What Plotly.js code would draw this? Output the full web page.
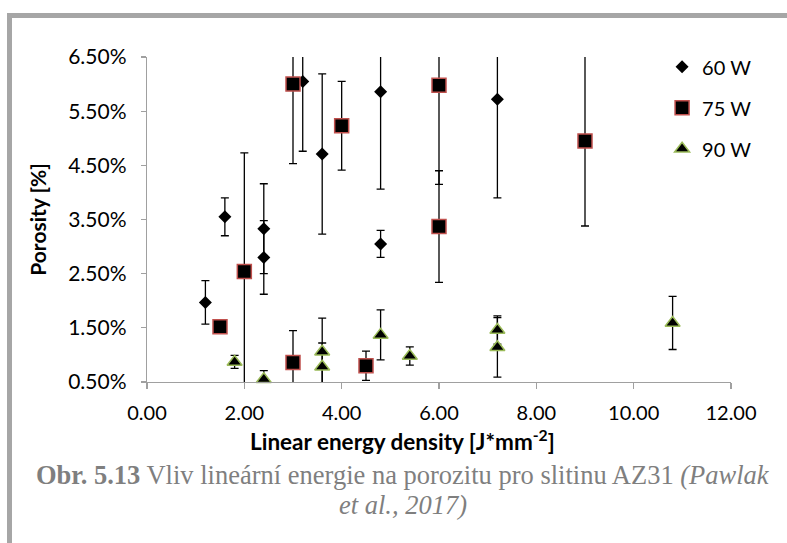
<!DOCTYPE html>
<html>
<head>
<meta charset="utf-8">
<script src="https://cdn.plot.ly/plotly-3.0.1.min.js"></script>
<style>
  html, body { margin:0; padding:0; background:#fff; }
  #wrap { position:relative; width:787px; height:543px; overflow:hidden; }
  #frame { position:absolute; left:7px; top:13px; width:800px; height:600px;
           border-left:5px solid #a6a6a6; border-top:5px solid #a6a6a6; box-sizing:border-box; }
  #chart { position:absolute; left:0; top:0; width:787px; height:543px; }
</style>
</head>
<body>
<div id="wrap">
  <div id="frame"></div>
  <div id="chart"></div>
</div>
<script>
// Linear energy density [J*mm^-2]
const x60 = [1.2, 1.6, 2.4, 2.4, 3.2, 3.6, 4.8, 4.8, 7.2];
const y60 = [1.97, 3.55, 3.33, 2.80, 6.05, 4.71, 5.86, 3.05, 5.72];
const e60 = [0.40, 0.35, 0.83, 0.68, 1.29, 1.48, 1.80, 0.25, 1.82];

const x75 = [1.5, 2.0, 3.0, 3.0, 4.0, 4.5, 6.0, 6.0, 9.0];
const y75 = [1.52, 2.54, 6.00, 0.86, 5.23, 0.80, 5.98, 3.37, 4.95];
const e75 = [0.05, 2.19, 1.47, 0.59, 0.82, 0.27, 1.83, 1.03, 1.57];

const x90 = [1.8, 2.4, 3.6, 3.6, 4.8, 5.4, 7.2, 7.2, 10.8];
const y90 = [0.87, 0.55, 1.06, 0.78, 1.37, 0.98, 1.46, 1.14, 1.59];
const e90 = [0.12, 0.16, 0.62, 0.44, 0.46, 0.17, 0.26, 0.55, 0.49];

const seriesNames = ['60 W', '75 W', '90 W'];

const FONT = 'Lato, "Open Sans", sans-serif';
const SERIF = '"Liberation Serif", "DejaVu Serif", serif';

function errTrace(x, y, e) {
  return {
    x: x, y: y, type: 'scatter', mode: 'markers',
    marker: { size: 1, color: 'rgba(0,0,0,0)' },
    error_y: { type: 'data', array: e, visible: true, color: '#000', thickness: 1.3, width: 4 },
    showlegend: false, hoverinfo: 'skip', cliponaxis: true
  };
}
function markTrace(x, y, name, marker) {
  return {
    x: x, y: y, type: 'scatter', mode: 'markers', name: name,
    legendgroup: name, marker: marker, cliponaxis: false
  };
}

const data = [
  errTrace(x60, y60, e60),
  errTrace(x75, y75, e75),
  errTrace(x90, y90, e90),
  markTrace(x60, y60, seriesNames[0], { symbol: 'diamond', size: 10, color: '#000', line: { width: 0 } }),
  markTrace(x75, y75, seriesNames[1], { symbol: 'square', size: 14, color: '#000', line: { width: 1.5, color: '#c0504d' } }),
  markTrace(x90, y90, seriesNames[2], { symbol: 'triangle-up', size: 13, color: '#000', line: { width: 1.5, color: '#9bbb59' } })
];

const layout = {
  width: 787, height: 543,
  paper_bgcolor: 'rgba(0,0,0,0)', plot_bgcolor: 'rgba(0,0,0,0)',
  margin: { l: 147, r: 56, t: 57, b: 161 },
  font: { family: FONT, color: '#000' },
  xaxis: {
    range: [0, 12], tick0: 0, dtick: 2, tickformat: '.2f',
    showline: true, linecolor: '#a0a0a0', linewidth: 1.3,
    ticks: 'outside', ticklen: 6, tickcolor: '#a0a0a0', tickwidth: 1.3,
    showgrid: false, zeroline: false, ticklabelstandoff: 7,
    tickfont: { family: FONT, size: 20, color: '#000' }
  },
  yaxis: {
    range: [0.5, 6.5], tick0: 0.5, dtick: 1, tickformat: '.2f', ticksuffix: '%',
    showline: true, linecolor: '#a0a0a0', linewidth: 1.3,
    ticks: 'outside', ticklen: 5, tickcolor: '#a0a0a0', tickwidth: 1.3,
    showgrid: false, zeroline: false, ticklabelstandoff: 10,
    tickfont: { family: FONT, size: 21, color: '#000' }
  },
  legend: {
    x: 0.882, y: 1.03, xanchor: 'left', yanchor: 'top',
    font: { family: FONT, size: 20, color: '#000' },
    traceorder: 'grouped', tracegroupgap: 12, bgcolor: 'rgba(0,0,0,0)'
  },
  annotations: [
    { text: '<b>Porosity [%]</b>', textangle: -90, xref: 'paper', yref: 'paper',
      x: -0.188, y: 0.5, xanchor: 'center', yanchor: 'middle', showarrow: false,
      font: { family: FONT, size: 21, color: '#000' } },
    { text: '<b>Linear energy density [J*mm<sup>-2</sup>]</b>', xref: 'paper', yref: 'paper',
      x: 0.438, y: -0.178, xanchor: 'center', yanchor: 'middle', showarrow: false,
      font: { family: FONT, size: 22.5, color: '#000' } },
    { text: '<b>Obr. 5.13</b> Vliv lineární energie na porozitu pro slitinu AZ31 <i>(Pawlak</i>',
      xref: 'paper', yref: 'paper', x: 0.438, y: -0.286, xanchor: 'center', yanchor: 'middle', showarrow: false,
      font: { family: SERIF, size: 26.5, color: '#7f7f7f' } },
    { text: '<i>et al., 2017)</i>', xref: 'paper', yref: 'paper', x: 0.438, y: -0.378,
      xanchor: 'center', yanchor: 'middle', showarrow: false,
      font: { family: SERIF, size: 26.5, color: '#7f7f7f' } }
  ]
};

Plotly.newPlot('chart', data, layout, { displayModeBar: false, staticPlot: true });
</script>
</body>
</html>
